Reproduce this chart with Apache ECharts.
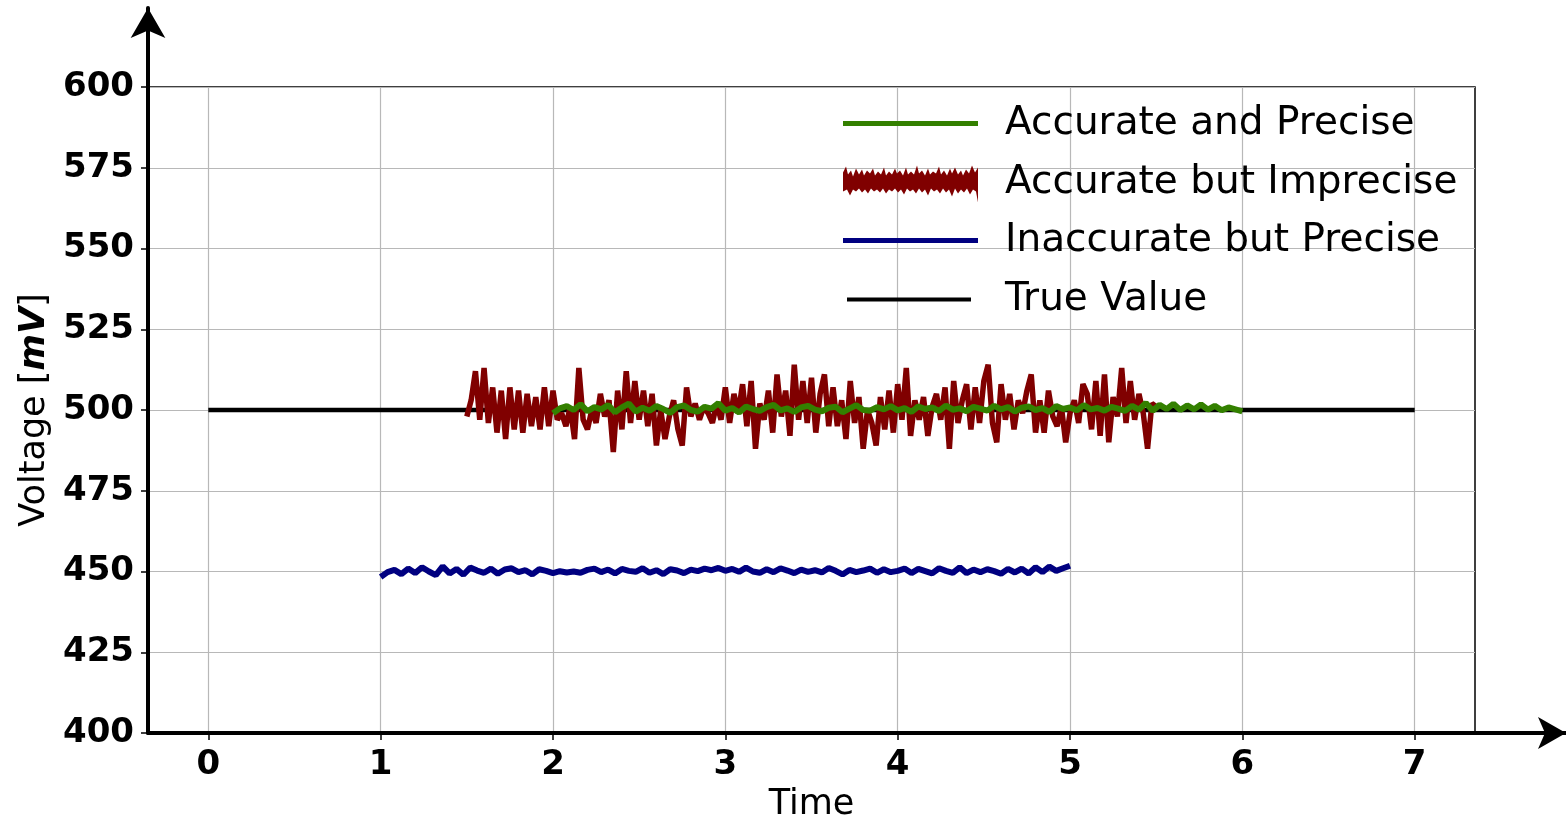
<!DOCTYPE html>
<html>
<head>
<meta charset="utf-8">
<script src="https://cdn.jsdelivr.net/npm/echarts@6/dist/echarts.min.js"></script>
<style>html,body{margin:0;padding:0;background:#fff;}#c{width:1566px;height:822px;}</style>
</head>
<body>
<div id="c"></div>
<script>
// ---- data ----
const xTickLabels = [0, 1, 2, 3, 4, 5, 6, 7];
const yTickLabels = [400, 425, 450, 475, 500, 525, 550, 575, 600];

const trueX = [0, 7];
const trueY = [500, 500];

const redStart = 1.5, redStep = 0.025;
const redValues = [
  498, 503, 512, 497, 513, 496, 507, 493, 506, 491,
  507, 494, 506, 493, 505, 495, 504, 494, 507, 495,
  506, 497, 499, 495, 501, 491, 513, 497, 494, 500,
  496, 505, 498, 503, 487, 506, 494, 512, 496, 509,
  497, 506, 495, 505, 489, 500, 491, 498, 503, 494,
  489, 507, 498, 502, 497, 501, 499, 496, 502, 497,
  507, 496, 505, 499, 508, 495, 509, 488, 502, 497,
  506, 493, 511, 498, 506, 492, 514, 497, 509, 496,
  510, 493, 505, 511, 495, 507, 495, 503, 491, 509,
  496, 504, 488, 500, 496, 489, 504, 494, 506, 493,
  508, 497, 513, 492, 503, 497, 504, 492, 501, 505,
  497, 507, 488, 509, 496, 503, 508, 494, 507, 496,
  509, 514, 496, 490, 508, 497, 505, 494, 503, 499,
  506, 511, 493, 503, 493, 506, 498, 495, 501, 490,
  499, 503, 496, 508, 505, 494, 509, 492, 511, 490,
  504, 498, 513, 496, 509, 497, 505, 499, 488, 502,
  501
];

const greenStart = 2, greenStep = 0.04;
const greenValues = [
  499.0, 500.5, 501.2, 500.0, 501.8, 499.6, 500.9, 500.2, 501.5, 499.3,
  500.8, 502.0, 499.5, 500.7, 499.8, 501.2, 500.3, 499.1, 500.9, 501.4,
  500.0, 499.5, 501.0, 500.4, 502.1, 499.8, 500.6, 499.2, 501.1, 500.3,
  499.7, 500.9, 501.6, 499.9, 500.5, 499.4, 500.8, 501.3, 500.1, 499.6,
  500.7, 501.0, 499.3, 500.4, 501.5, 500.0, 499.8, 500.9, 500.2, 501.2,
  499.9, 500.6, 499.4, 501.1, 500.3, 500.8, 499.7, 501.4, 500.1, 500.5,
  499.6, 501.0, 500.4, 499.8, 501.3, 500.2, 500.9, 499.5, 500.7, 501.1,
  500.0, 500.6, 499.4, 501.2, 500.3, 500.8, 499.9, 501.5, 500.2, 500.6,
  499.8, 501.0, 500.4, 499.7, 501.3, 500.1, 502.2, 499.8, 501.6, 500.3,
  501.9, 500.0, 501.4, 500.2, 501.7, 500.1, 501.3, 499.9, 500.8, 500.2,
  499.6
];

const blueStart = 1, blueStep = 0.04;
const blueValues = [
  448.3, 449.8, 450.5, 449.2, 450.9, 449.5, 451.3, 450.0, 448.9, 451.6,
  449.4, 450.8, 449.0, 451.2, 450.3, 449.6, 450.9, 449.3, 450.6, 451.0,
  449.8, 450.4, 449.1, 450.7, 450.2, 449.5, 450.1, 449.7, 450.0, 449.6,
  450.5, 450.9, 449.8, 450.6, 449.4, 450.8, 450.2, 449.9, 451.0, 449.6,
  450.4, 449.2, 450.7, 450.3, 449.5, 450.6, 450.1, 450.9, 450.4, 451.1,
  450.2, 450.8, 449.9, 451.2, 450.0, 449.6, 450.7, 449.8, 451.0, 450.3,
  449.5, 450.6, 449.9, 450.4, 449.7, 451.1, 450.2, 449.1, 450.5, 449.8,
  450.3, 450.9, 449.6, 450.7, 449.8, 450.2, 450.9, 449.5, 450.8, 450.1,
  449.4, 451.0, 450.2, 449.6, 451.3, 449.5, 450.6, 449.8, 450.7, 450.1,
  449.3, 450.8, 449.7, 450.9, 449.4, 451.3, 449.8, 451.5, 450.2, 451.0,
  451.8
];

const seriesNames = ['Accurate and Precise', 'Accurate but Imprecise', 'Inaccurate but Precise', 'True Value'];

function pairs(start, step, vals) {
  return vals.map((v, i) => [+(start + i * step).toFixed(4), v]);
}

// legend icon shapes (decorative samples, bounding box 135 x 40)
const ICON_THIN = 'path://M0,0 M135,40 M0,17 L135,17 L135,22 L0,22 Z';
const ICON_TRUE = 'path://M0,0 M135,40 M4,18 L128,18 L128,22 L4,22 Z';
const ICON_NOISY = 'path://M0,0 M135,40 M0,10 L3,4 L5,12 L8,8 L10,14 L13,6 L16,12 L19,7 L21,13 L24,8 L27,11 L30,6 L32,13 L35,9 L38,12 L41,5 L43,13 L46,9 L49,12 L52,6 L54,11 L57,8 L60,13 L63,5 L65,12 L68,9 L71,12 L74,3 L76,11 L79,8 L82,13 L85,6 L87,12 L90,9 L93,11 L96,4 L98,12 L101,8 L104,13 L107,6 L109,11 L112,5 L115,12 L118,8 L120,13 L123,7 L126,11 L129,3 L132,10 L135,5 ' +
  'L135,40 L133,29 L130,27 L127,32 L124,26 L121,30 L118,27 L115,31 L112,26 L109,34 L106,27 L103,30 L100,26 L97,31 L94,27 L91,29 L88,26 L85,33 L82,27 L79,30 L76,26 L73,31 L70,27 L67,29 L64,26 L61,32 L58,27 L55,30 L52,26 L49,29 L46,27 L43,31 L40,26 L37,30 L34,27 L31,29 L28,26 L25,31 L22,27 L19,30 L16,26 L13,29 L10,27 L7,33 L4,27 L0,29 Z';

const chart = echarts.init(document.getElementById('c'), null, { renderer: 'canvas' });

const FONT = 'DejaVu Sans';

chart.setOption({
  animation: false,
  backgroundColor: '#ffffff',
  grid: [
    { left: 148, right: 91, top: 87, bottom: 89, outerBoundsMode: 'none', containLabel: false, show: true, borderColor: '#000', borderWidth: 1.5, backgroundColor: 'transparent' },
    { left: 148, right: 0, top: 8, bottom: 89, outerBoundsMode: 'none', containLabel: false, show: false }
  ],
  legend: {
    data: [
      { name: seriesNames[0], icon: ICON_THIN },
      { name: seriesNames[1], icon: ICON_NOISY },
      { name: seriesNames[2], icon: ICON_THIN },
      { name: seriesNames[3], icon: ICON_TRUE }
    ],
    orient: 'vertical',
    left: 843,
    top: 104,
    padding: 0,
    itemWidth: 135,
    itemHeight: 40,
    itemGap: 18.5,
    symbolKeepAspect: false,
    itemStyle: { borderWidth: 0 },
    lineStyle: { width: 0 },
    textStyle: { fontFamily: FONT, fontSize: 39, color: '#000', lineHeight: 40, padding: [0, 0, 0, 22] }
  },
  xAxis: [
    {
      gridIndex: 0, type: 'value', min: -0.35, max: 7.35, splitNumber: 8,
      name: 'Time', nameLocation: 'middle', nameGap: 54,
      nameTextStyle: { fontFamily: FONT, fontSize: 35, color: '#000' },
      axisLine: { show: false, onZero: false },
      axisTick: { show: true, length: 7, customValues: xTickLabels, lineStyle: { color: '#000', width: 1.5 } },
      axisLabel: { customValues: xTickLabels, fontFamily: FONT, fontWeight: 'bold', fontSize: 34, color: '#000', margin: 15 },
      splitLine: { show: true, lineStyle: { color: '#b8b8b8', width: 1.2 } }
    },
    {
      gridIndex: 1, type: 'value', min: 0, max: 1,
      axisLine: { show: true, onZero: false, symbol: ['none', 'arrow'], symbolSize: [24, 28], lineStyle: { color: '#000', width: 4 } },
      axisTick: { show: false }, axisLabel: { show: false }, splitLine: { show: false }
    }
  ],
  yAxis: [
    {
      gridIndex: 0, type: 'value', min: 400, max: 600, interval: 25,
      name: '{a|Voltage [}{b|mV}{a|]}', nameLocation: 'middle', nameGap: 95,
      nameTextStyle: {
        color: '#000',
        rich: {
          a: { fontFamily: FONT, fontSize: 35, color: '#000' },
          b: { fontFamily: FONT, fontSize: 35, fontWeight: 'bold', fontStyle: 'italic', color: '#000' }
        }
      },
      axisLine: { show: false, onZero: false },
      axisTick: { show: true, length: 7, lineStyle: { color: '#000', width: 1.5 } },
      axisLabel: { fontFamily: FONT, fontWeight: 'bold', fontSize: 34, color: '#000', margin: 14, padding: [5, 0, 0, 0] },
      splitLine: { show: true, lineStyle: { color: '#b8b8b8', width: 1.2 } }
    },
    {
      gridIndex: 1, type: 'value', min: 0, max: 1,
      axisLine: { show: true, onZero: false, symbol: ['none', 'arrow'], symbolSize: [26, 30], lineStyle: { color: '#000', width: 4 } },
      axisTick: { show: false }, axisLabel: { show: false }, splitLine: { show: false }
    }
  ],
  series: [
    {
      name: seriesNames[0], type: 'line', xAxisIndex: 0, yAxisIndex: 0, z: 4,
      data: pairs(greenStart, greenStep, greenValues),
      symbol: 'none', lineStyle: { color: '#338000', width: 6 }, itemStyle: { color: '#338000' }
    },
    {
      name: seriesNames[1], type: 'line', xAxisIndex: 0, yAxisIndex: 0, z: 3,
      data: pairs(redStart, redStep, redValues),
      symbol: 'none', lineStyle: { color: '#800000', width: 5.5 }, itemStyle: { color: '#800000' }
    },
    {
      name: seriesNames[2], type: 'line', xAxisIndex: 0, yAxisIndex: 0, z: 3,
      data: pairs(blueStart, blueStep, blueValues),
      symbol: 'none', lineStyle: { color: '#000080', width: 6 }, itemStyle: { color: '#000080' }
    },
    {
      name: seriesNames[3], type: 'line', xAxisIndex: 0, yAxisIndex: 0, z: 2,
      data: trueX.map((x, i) => [x, trueY[i]]),
      symbol: 'none', lineStyle: { color: '#000', width: 4.5 }, itemStyle: { color: '#000' }
    }
  ]
});
</script>
</body>
</html>
